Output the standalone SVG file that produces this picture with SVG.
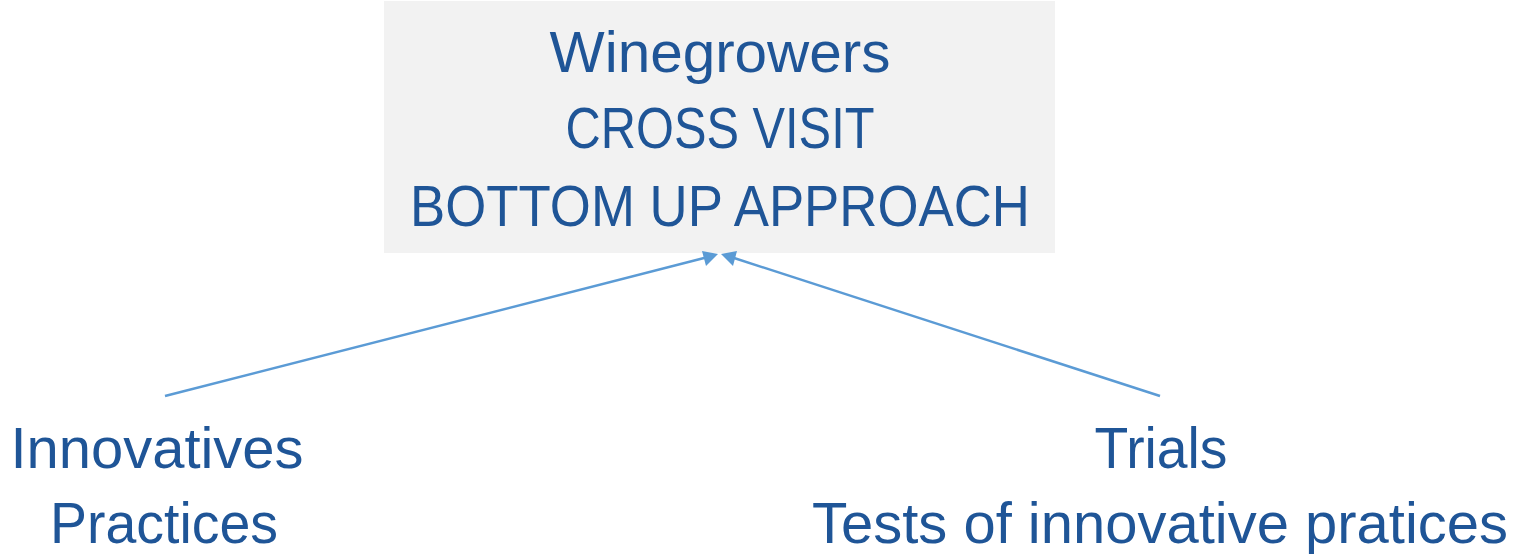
<svg xmlns="http://www.w3.org/2000/svg" width="1518" height="554" viewBox="0 0 1518 554">
<style>
.t{font-family:"Liberation Sans",Arial,sans-serif;font-size:57px;fill:#1F5597;text-anchor:middle}
.c{stroke:#5B9BD5;stroke-width:2.5;fill:none}
.a{fill:#5B9BD5}
</style>
<rect width="1518" height="554" fill="#fff"/>
<g id="top">
<rect x="384" y="1" width="671" height="252" fill="#F2F2F2"/>
<text class="t" x="720" y="72" textLength="341" lengthAdjust="spacingAndGlyphs">Winegrowers</text>
<text class="t" x="720" y="148" textLength="309" lengthAdjust="spacingAndGlyphs">CROSS VISIT</text>
<text class="t" x="720" y="226" textLength="620" lengthAdjust="spacingAndGlyphs">BOTTOM UP APPROACH</text>
</g>
<g id="left">
<text class="t" x="157" y="468" textLength="293" lengthAdjust="spacingAndGlyphs">Innovatives</text>
<text class="t" x="164" y="543" textLength="228" lengthAdjust="spacingAndGlyphs">Practices</text>
</g>
<g id="right">
<text class="t" x="1161" y="468" textLength="133" lengthAdjust="spacingAndGlyphs">Trials</text>
<text class="t" x="1160" y="543" textLength="696" lengthAdjust="spacingAndGlyphs">Tests of innovative pratices</text>
</g>
<g id="connectors">
<path class="c" d="M165,396 L708,257"/>
<path class="c" d="M1160,396 L731,257"/>
<polygon class="a" points="718,254 702,251 706,266"/>
<polygon class="a" points="721,254 737,251 733,266"/>
</g>
</svg>
